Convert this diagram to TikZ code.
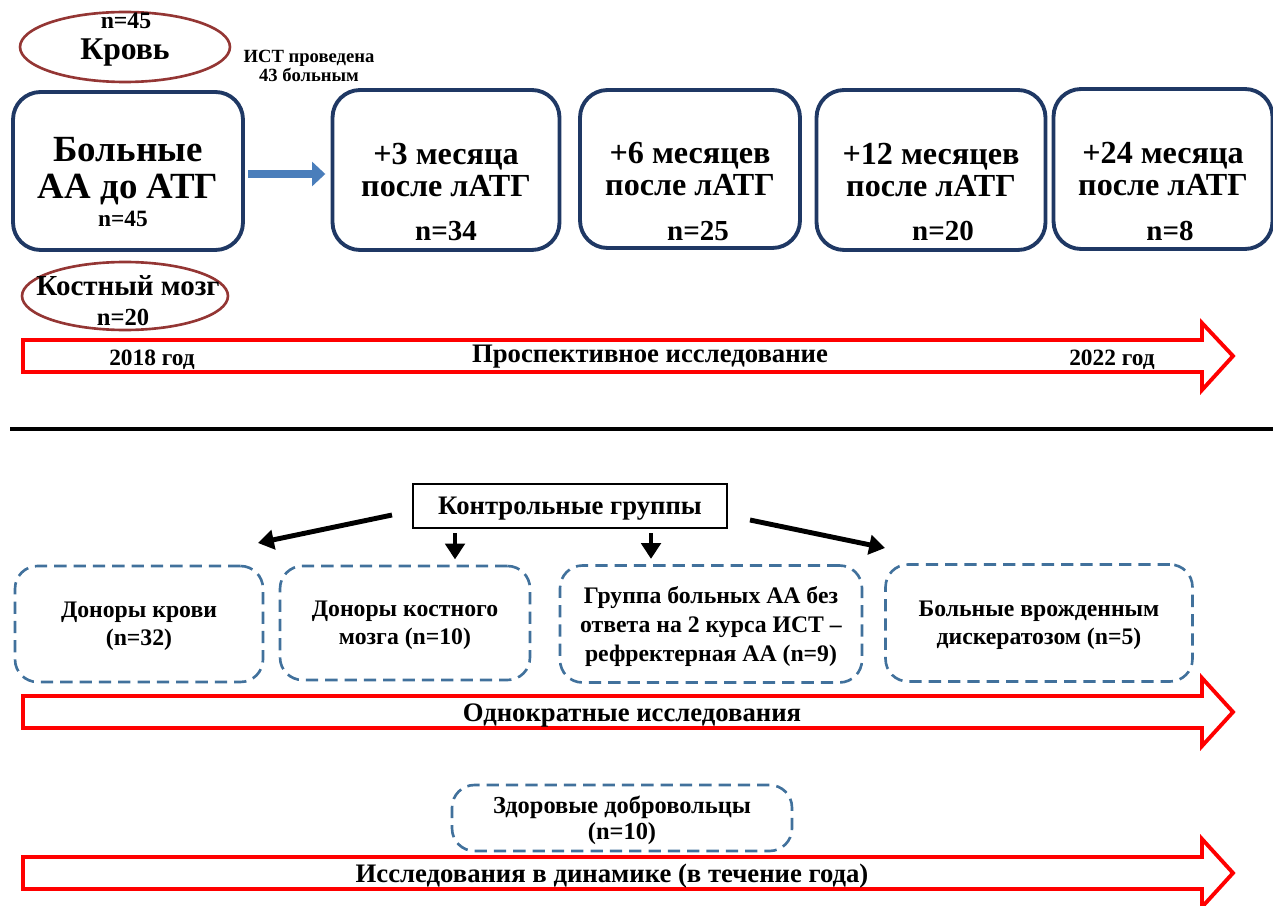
\documentclass[tikz,border=0pt]{standalone}
\usepackage{fontspec}
\setmainfont{Liberation Serif}
\usetikzlibrary{arrows.meta,shapes.geometric}
\definecolor{boxblue}{HTML}{1F3864}
\definecolor{dashblue}{HTML}{41719C}
\definecolor{ovalred}{HTML}{943634}
\definecolor{arrblue}{HTML}{4A7EBB}
\begin{document}
\begin{tikzpicture}[x=0.02cm,y=-0.02cm,
    font=\bfseries,
    period/.style={draw=boxblue,line width=2.2pt,rounded corners=0.55cm,minimum width=#1,minimum height=3.2cm,align=center,font=\bfseries\fontsize{18.3}{18}\selectfont},
    cnt/.style={font=\bfseries\fontsize{16.5}{16.5}\selectfont},
    oval/.style={ellipse,draw=ovalred,line width=1.5pt,inner sep=0pt},
    group/.style={draw=dashblue,line width=1.5pt,dash pattern=on 7pt off 4pt,rounded corners=0.45cm,align=center,text depth=0pt,font=\bfseries\fontsize{13.5}{16}\selectfont},
    band/.style={draw=red,line width=2.2pt,fill=white,line join=miter},
    bandtext/.style={font=\bfseries\fontsize{15.2}{15.2}\selectfont},
    arr/.style={-{Triangle[length=9pt,width=11pt]},line width=2.8pt,black},
    blockarr/.style={-{Triangle[length=7.5pt,width=13.5pt]},line width=5pt,arrblue}
]
\useasboundingbox (0,0) rectangle (1273,905);

% prospective part
\node[oval,minimum width=4.2cm,minimum height=1.4cm] (blood) at (125,47) {};
\node[font=\bfseries\fontsize{13.5}{13.5}\selectfont] (bloodn) at (126,21) {n=45};
\node[font=\bfseries\fontsize{18}{18}\selectfont] (bloodt) at (125,53) {Кровь};
\node[align=center,font=\bfseries\fontsize{10.6}{11.3}\selectfont] (ist) at (309,66) {ИСТ проведена\\43 больным};

\node[period=4.6cm,minimum height=3.16cm,font=\bfseries\fontsize{21}{21}\selectfont] (base) at (128,171) {Больные\\АА до АТГ};
\node[cnt,font=\bfseries\fontsize{13.3}{13.3}\selectfont] (basen) at (123,219) {n=45};
\node[period=4.54cm] (m3) at (446,170) {+3 месяца\\после лАТГ};
\node[period=4.4cm,minimum height=3.16cm] (m6) at (690,169) {+6 месяцев\\после лАТГ};
\node[period=4.58cm] (m12) at (931,170) {+12 месяцев\\после лАТГ};
\node[period=4.38cm] (m24) at (1163,169) {+24 месяца\\после лАТГ};
\node[cnt] (n3) at (446,231) {n=34};
\node[cnt] (n6) at (698,231) {n=25};
\node[cnt] (n12) at (943,231) {n=20};
\node[cnt] (n24) at (1170,231) {n=8};
\draw[blockarr,shorten <=2pt,shorten >=3pt] (base.east|-0,174) -- (m3.west|-0,174);

\node[oval,minimum width=4.12cm,minimum height=1.36cm] (marrow) at (125,296) {};
\node[font=\bfseries\fontsize{16.5}{16.5}\selectfont] (marrowt) at (128,286) {Костный мозг};
\node[font=\bfseries\fontsize{14}{14}\selectfont] (marrown) at (123,317) {n=20};

\draw[band] (23,340) -- (1202,340) -- (1202,323) -- (1233,356) -- (1202,390) -- (1202,372) -- (23,372) -- cycle;
\node[font=\bfseries\fontsize{13.3}{13.3}\selectfont] (y18) at (152,360) {2018 год};
\node[bandtext] (prosp) at (650,357) {Проспективное исследование};
\node[font=\bfseries\fontsize{13.3}{13.3}\selectfont] (y22) at (1112,360) {2022 год};

\draw[line width=2.2pt] (10,429) -- (1273,429);

% control groups
\node[draw,line width=0.8pt,minimum width=6.28cm,minimum height=0.88cm,text depth=0pt,font=\bfseries\fontsize{15.2}{15.2}\selectfont] (ctrl) at (570,506) {Контрольные группы};
\node[group,minimum width=4.96cm,minimum height=2.32cm] (d1) at (139,624) {Доноры крови\\(n=32)};
\node[group,minimum width=5.0cm,minimum height=2.28cm] (d2) at (405,623) {Доноры костного\\мозга (n=10)};
\node[group,minimum width=6.04cm,minimum height=2.34cm,font=\bfseries\fontsize{13.5}{16.7}\selectfont] (d3) at (711,624) {Группа больных АА без\\ответа на 2 курса ИСТ --\\рефректерная АА (n=9)};
\node[group,minimum width=6.14cm,minimum height=2.34cm] (d4) at (1039,623) {Больные врожденным\\дискератозом (n=5)};

\coordinate (l1) at (392,515);
\coordinate (l2) at (258,543);
\coordinate (c2) at (455,533);
\coordinate (c3) at (651,533);
\coordinate (r1) at (750,520);
\coordinate (r2) at (885,548);
\draw[arr] (l1) -- (l2);
\draw[arr,shorten >=3pt] (c2) -- (c2|-d2.north);
\draw[arr,shorten >=3pt] (c3) -- (c3|-d3.north);
\draw[arr] (r1) -- (r2);

\draw[band] (23,696) -- (1202,696) -- (1202,678) -- (1233,712) -- (1202,746) -- (1202,728) -- (23,728) -- cycle;
\node[bandtext] (once) at (632,715) {Однократные исследования};

\node[group,minimum width=6.8cm,minimum height=1.32cm,font=\bfseries\fontsize{13.9}{14.7}\selectfont] (vol) at (622,818) {Здоровые добровольцы\\(n=10)};

\draw[band] (23,857) -- (1202,857) -- (1202,839) -- (1233,873) -- (1202,907) -- (1202,889) -- (23,889) -- cycle;
\node[bandtext] (dyn) at (612,876) {Исследования в динамике (в течение года)};
\end{tikzpicture}
\end{document}
